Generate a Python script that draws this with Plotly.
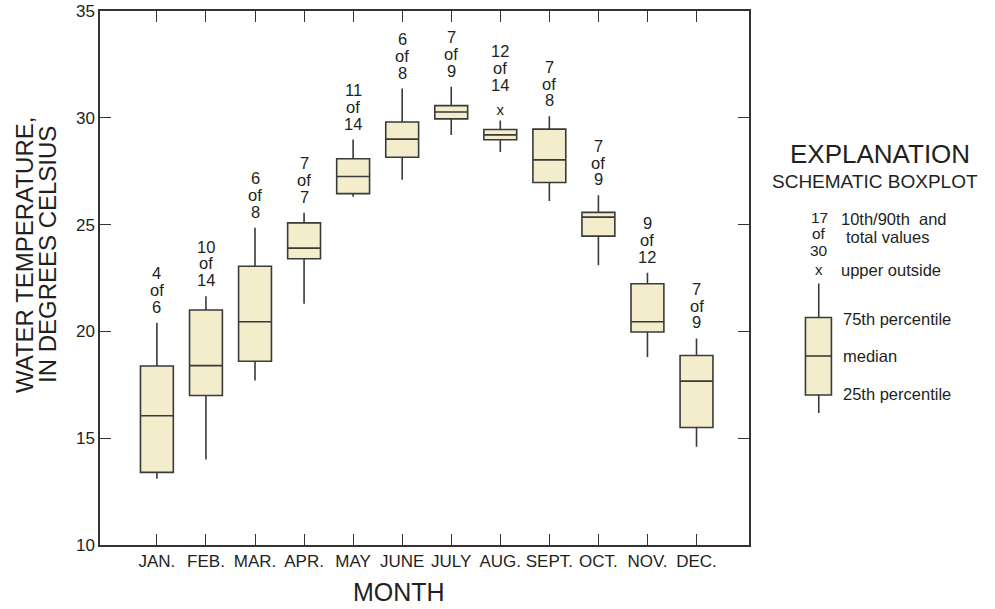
import plotly.graph_objects as go

# ---------------- data ----------------
months = ["JAN.", "FEB.", "MAR.", "APR.", "MAY", "JUNE", "JULY", "AUG.", "SEPT.", "OCT.", "NOV.", "DEC."]
p10 = [13.1, 14.0, 17.7, 21.3, 26.3, 27.1, 29.2, 28.4, 26.1, 23.1, 18.8, 14.6]
q1 = [13.4, 17.0, 18.6, 23.4, 26.45, 28.15, 29.95, 28.97, 26.97, 24.46, 19.97, 15.5]
medians = [16.05, 18.4, 20.45, 23.9, 27.25, 29.0, 30.27, 29.2, 28.03, 25.35, 20.45, 17.67]
q3 = [18.38, 21.0, 23.05, 25.08, 28.08, 29.8, 30.57, 29.45, 29.47, 25.57, 22.23, 18.87]
p90 = [20.4, 21.65, 24.85, 25.55, 28.98, 31.37, 31.45, 29.87, 30.07, 26.37, 22.75, 19.67]
n_within = [4, 10, 6, 7, 11, 6, 7, 12, 7, 7, 9, 7]
n_total = [6, 14, 8, 7, 14, 8, 9, 14, 8, 9, 12, 9]
outlier_month = [7]          # index of AUG.
outlier_value = [30.33]

FONT = "Liberation Sans, Arial, Helvetica, sans-serif"
INK = "#231f20"
LINE = "#3a3a3a"
FILL = "#f3edcb"

xpos = list(range(len(months)))

fig = go.Figure()

fig.add_trace(go.Box(
    x=xpos, q1=q1, median=medians, q3=q3,
    lowerfence=p10, upperfence=p90,
    width=0.67, whiskerwidth=0,
    fillcolor=FILL, line=dict(color=LINE, width=1.6),
    boxpoints=False, showlegend=False, hoverinfo="skip",
))

fig.add_trace(go.Scatter(
    x=outlier_month, y=outlier_value, mode="text", text=["x"],
    textposition="middle center",
    textfont=dict(family=FONT, size=15, color=INK),
    showlegend=False, hoverinfo="skip",
))

annotations = []
outlier_lookup = dict(zip(outlier_month, outlier_value))
for i in xpos:
    if i in outlier_lookup:
        base, s0 = outlier_lookup[i], 26
    else:
        base, s0 = p90[i], 16
    for k, t in enumerate([str(n_total[i]), "of", str(n_within[i])]):
        annotations.append(dict(
            x=i, y=base, xref="x", yref="y", text=t, showarrow=False,
            xanchor="center", yanchor="middle", yshift=s0 + 16.7 * k,
            font=dict(family=FONT, size=16.5, color=INK),
        ))

# --- layout geometry helpers (pixels -> paper) ---
L, R, T, B = 100, 749.5, 11, 545
def px(x):
    return (x - L) / (R - L)
def py(y):
    return (B - y) / (B - T)

def text(xp, yp, t, size, xanchor="center", angle=0):
    annotations.append(dict(
        x=px(xp), y=py(yp), xref="paper", yref="paper", text=t, showarrow=False,
        xanchor=xanchor, yanchor="middle", textangle=angle,
        font=dict(family=FONT, size=size, color=INK),
    ))

# axis titles
text(24, 255, "WATER TEMPERATURE,", 24, angle=-90)
text(47, 255, "IN DEGREES CELSIUS", 24, angle=-90)
text(399, 592, "MONTH", 25)

# explanation
text(881, 154, "EXPLANATION", 26)
text(876, 181, "SCHEMATIC BOXPLOT", 19)
text(820, 217, "17", 15.5)
text(820, 233.5, "of", 15.5)
text(820, 250, "30", 15.5)
text(820, 269, "x", 15)
text(840, 219, "10th/90th  and", 16.5, xanchor="left")
text(845, 237, "total values", 16.5, xanchor="left")
text(840, 270, "upper outside", 16.5, xanchor="left")
text(842, 319, "75th percentile", 16.5, xanchor="left")
text(842, 356, "median", 16.5, xanchor="left")
text(842, 394, "25th percentile", 16.5, xanchor="left")

shapes = [
    dict(type="line", xref="paper", yref="paper", x0=px(819.3), x1=px(819.3),
         y0=py(283.5), y1=py(317.5), line=dict(color=LINE, width=1.6)),
    dict(type="line", xref="paper", yref="paper", x0=px(819.3), x1=px(819.3),
         y0=py(395), y1=py(413), line=dict(color=LINE, width=1.6)),
    dict(type="rect", xref="paper", yref="paper", x0=px(806), x1=px(832),
         y0=py(395), y1=py(317.5), fillcolor=FILL, line=dict(color=LINE, width=1.6)),
    dict(type="line", xref="paper", yref="paper", x0=px(806), x1=px(832),
         y0=py(356), y1=py(356), line=dict(color=LINE, width=1.6)),
]

axis_common = dict(
    showline=True, linecolor="#333333", linewidth=1.5, mirror="ticks",
    ticks="inside", ticklen=11, tickwidth=1.3, tickcolor="#333333",
    showgrid=False, zeroline=False, automargin=False,
    tickfont=dict(family=FONT, size=17, color=INK),
)

fig.update_layout(
    template="none",
    width=995, height=609,
    margin=dict(l=L, r=995 - R, t=T, b=609 - B, autoexpand=False),
    paper_bgcolor="white", plot_bgcolor="white",
    xaxis=dict(range=[-1.16, 12.07], tickmode="array", tickvals=xpos,
               ticktext=months, **axis_common),
    yaxis=dict(range=[10, 35], tickmode="array", tickvals=[10, 15, 20, 25, 30, 35],
               **axis_common),
    annotations=annotations, shapes=shapes, showlegend=False,
)

fig.write_html("out.html")
